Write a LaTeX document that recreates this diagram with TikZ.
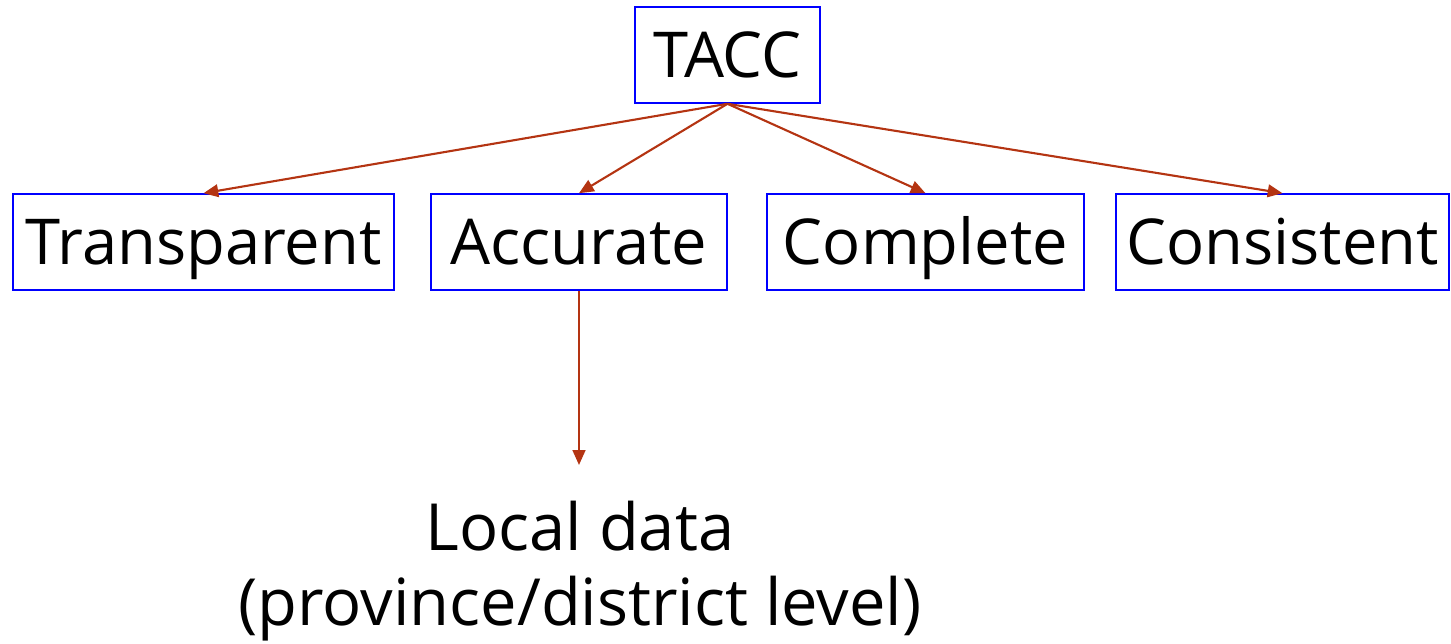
\documentclass[tikz,border=0pt]{standalone}
\usepackage{fontspec}
\setmainfont{Open Sans}
\usetikzlibrary{arrows.meta}
\definecolor{linkred}{RGB}{180,52,18}
\tikzset{
    box/.style={draw=blue, line width=0.45pt, minimum height=0.96cm, inner sep=0pt, text height=12.9pt, text depth=0pt, font=\fontsize{18}{22}\selectfont},
    link/.style={draw=linkred, line width=0.6pt, -{Triangle[length=4.2pt,width=3.6pt]}}
}
\begin{document}
\begin{tikzpicture}
    \useasboundingbox (0,0) rectangle (14.51,6.43);
    \node[box, minimum width=1.85cm] (tacc) at (7.275,5.88) {TACC};
    \node[box, minimum width=3.81cm] (transparent) at (2.035,4.01) {Transparent};
    \node[box, minimum width=2.96cm] (accurate) at (5.79,4.01) {Accurate};
    \node[box, minimum width=3.17cm] (complete) at (9.255,4.01) {Complete};
    \node[box, minimum width=3.33cm] (consistent) at (12.825,4.01) {Consistent};
    \foreach \n in {transparent, accurate, complete, consistent} {
        \draw[link] (tacc.south) -- (\n.north);
    }
    \coordinate (down) at (5.79,1.78);
    \draw[link] (accurate.south) -- (down);
    \node[align=center, font=\fontsize{18.5}{21.3}\selectfont] (local) at (5.80,0.72) {Local data\\(province/district level)}; % detail level
\end{tikzpicture}
\end{document}
